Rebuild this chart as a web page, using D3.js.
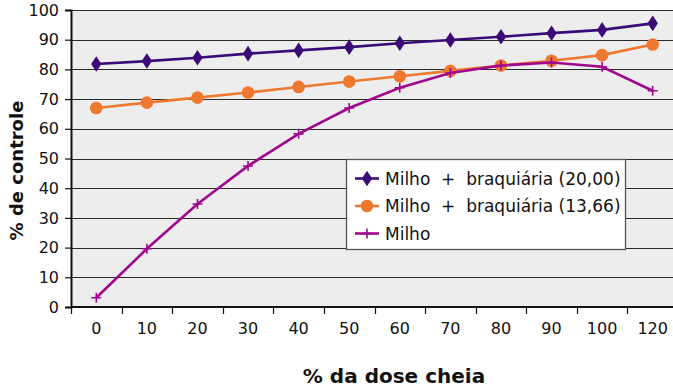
<!DOCTYPE html>
<html>
<head>
<meta charset="utf-8">
<script src="https://cdn.jsdelivr.net/npm/d3@7"></script>
<style>
  html, body { margin: 0; padding: 0; background: #fff; overflow: hidden; }
  svg { display: block; }
  text { font-family: "DejaVu Sans", "Liberation Sans", Arial, sans-serif; fill: #111; }
</style>
</head>
<body>
<svg id="chart" width="673" height="388"></svg>
<script>
// Dose categories (% da dose cheia)
const doses = ["0", "10", "20", "30", "40", "50", "60", "70", "80", "90", "100", "120"];

// % de controle per treatment
const milhoBraq20 = [81.8, 82.8, 83.9, 85.3, 86.4, 87.5, 88.8, 89.9, 91.0, 92.2, 93.3, 95.5];
const milhoBraq1366 = [67.0, 68.8, 70.5, 72.2, 74.1, 75.9, 77.7, 79.5, 81.3, 82.9, 84.8, 88.4];
const milho = [3.1, 19.6, 34.7, 47.5, 58.3, 67.0, 73.8, 78.8, 81.3, 82.3, 80.9, 72.8];

const seriesNames = ["Milho  +  braquiária (20,00)", "Milho  +  braquiária (13,66)", "Milho"];
const seriesColors = ["#3b0a78", "#ef7830", "#a0088c"];
const yTicks = [0, 10, 20, 30, 40, 50, 60, 70, 80, 90, 100];

const series = [
  { name: seriesNames[0], values: milhoBraq20, color: seriesColors[0], marker: "diamond" },
  { name: seriesNames[1], values: milhoBraq1366, color: seriesColors[1], marker: "circle" },
  { name: seriesNames[2], values: milho, color: seriesColors[2], marker: "plus" }
];

const svg = d3.select("#chart");
const margin = { left: 71, top: 10, right: -5, bottom: 81 };
const W = 673, H = 388;
const x0 = margin.left, x1 = W - margin.right;
const y0 = H - margin.bottom, y1 = margin.top;

const x = d3.scaleBand().domain(doses).range([x0, x1]);
const y = d3.scaleLinear().domain([0, 100]).range([y0, y1]);

// plot background
svg.append("rect")
  .attr("x", x0).attr("y", y1)
  .attr("width", x1 - x0).attr("height", y0 - y1)
  .attr("fill", "#ededed");

// horizontal gridlines
svg.append("g")
  .selectAll("line")
  .data(yTicks.filter(d => d > 0))
  .join("line")
  .attr("x1", x0).attr("x2", x1)
  .attr("y1", d => Math.round(y(d)) + 0.5).attr("y2", d => Math.round(y(d)) + 0.5)
  .attr("stroke", "#2a2a2a").attr("stroke-width", 1.2);

// y axis
const yAxis = svg.append("g")
  .attr("transform", `translate(${x0},0)`)
  .call(d3.axisLeft(y).tickValues(yTicks).tickSize(6).tickPadding(6));
yAxis.select(".domain").attr("stroke", "#111").attr("stroke-width", 2);
yAxis.selectAll(".tick line").attr("stroke", "#111").attr("stroke-width", 1.2);
yAxis.selectAll(".tick text").style("font-size", "16px").attr("fill", "#111");

// x axis: ticks on band boundaries, labels centred in bands
const xAxisG = svg.append("g").attr("transform", `translate(0,${y0})`);
xAxisG.append("line")
  .attr("x1", x0).attr("x2", x1).attr("y1", 0).attr("y2", 0)
  .attr("stroke", "#111").attr("stroke-width", 2);
xAxisG.selectAll("line.tk")
  .data(doses)
  .join("line")
  .attr("class", "tk")
  .attr("x1", d => Math.round(x(d)) + 0.5).attr("x2", d => Math.round(x(d)) + 0.5)
  .attr("y1", 0).attr("y2", 7)
  .attr("stroke", "#111").attr("stroke-width", 1.2);
xAxisG.selectAll("text")
  .data(doses)
  .join("text")
  .attr("x", d => x(d) + x.bandwidth() / 2)
  .attr("y", 27)
  .attr("text-anchor", "middle")
  .style("font-size", "16px")
  .text(d => d);

// axis titles
svg.append("text")
  .attr("x", 394).attr("y", 383)
  .attr("text-anchor", "middle")
  .style("font-size", "20px").style("font-weight", "bold")
  .text("% da dose cheia");
svg.append("text")
  .attr("transform", `translate(23,${(y0 + y1) / 2 + 12}) rotate(-90)`)
  .attr("text-anchor", "middle")
  .style("font-size", "18px").style("font-weight", "bold")
  .text("% de controle");

// marker drawing
const symDiamond = d3.symbol().type(d3.symbolDiamond).size(70);
const symCircle = d3.symbol().type(d3.symbolCircle).size(125);
function drawMarker(g, s, cx, cy) {
  if (s.marker === "diamond") {
    g.append("path").attr("d", symDiamond()).attr("transform", `translate(${cx},${cy}) scale(1.15,1)`)
      .attr("fill", s.color);
  } else if (s.marker === "circle") {
    g.append("path").attr("d", symCircle()).attr("transform", `translate(${cx},${cy})`)
      .attr("fill", s.color);
  } else {
    g.append("path")
      .attr("d", `M${cx - 5},${cy}H${cx + 5}M${cx},${cy - 5}V${cy + 5}`)
      .attr("stroke", s.color).attr("stroke-width", 1.6).attr("fill", "none");
  }
}

const line = d3.line()
  .x((d, i) => x(doses[i]) + x.bandwidth() / 2)
  .y(d => y(d));

// draw series in order: magenta on top
[series[1], series[0], series[2]].forEach(s => {
  const g = svg.append("g");
  g.append("path")
    .attr("d", line(s.values))
    .attr("fill", "none")
    .attr("stroke", s.color)
    .attr("stroke-width", 2.6);
  s.values.forEach((v, i) => drawMarker(g, s, x(doses[i]) + x.bandwidth() / 2, y(v)));
});

// legend
const lg = svg.append("g");
const lx = 346, ly = 159, lw = 279, lh = 90;
lg.append("rect")
  .attr("x", lx + 0.5).attr("y", ly + 0.5).attr("width", lw).attr("height", lh)
  .attr("fill", "#fff").attr("stroke", "#555").attr("stroke-width", 1.3);
series.forEach((s, i) => {
  const cy = ly + 19.5 + i * 27.5;
  lg.append("line")
    .attr("x1", lx + 9).attr("x2", lx + 33).attr("y1", cy).attr("y2", cy)
    .attr("stroke", s.color).attr("stroke-width", 2.6);
  drawMarker(lg, s, lx + 21, cy);
  lg.append("text")
    .attr("x", lx + 39).attr("y", cy + 6)
    .style("font-size", "17px")
    .style("white-space", "pre")
    .text(s.name);
});
</script>
</body>
</html>
